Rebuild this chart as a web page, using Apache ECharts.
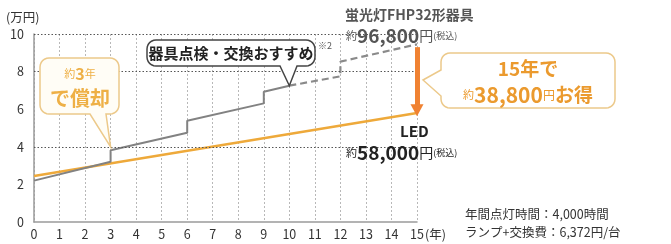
<!DOCTYPE html>
<html lang="ja">
<head>
<meta charset="utf-8">
<title>蛍光灯とLEDのコスト比較</title>
<script src="https://cdn.jsdelivr.net/npm/echarts@6/dist/echarts.min.js"></script>
<style>
  html, body { margin: 0; padding: 0; background: #fff; }
  #main { width: 671px; height: 244px; }
</style>
</head>
<body>
<div id="main"></div>
<script>
// 年
var years = [0, 1, 2, 3, 4, 5, 6, 7, 8, 9, 10, 11, 12, 13, 14, 15];
var yTicks = [0, 2, 4, 6, 8, 10];
// 蛍光灯 累計コスト（万円） 実線部分
var fluoSolid = [[0, 2.2], [3, 3.2], [3, 3.82], [6, 4.75], [6, 5.39], [9, 6.31], [9, 6.93], [10, 7.25]];
// 蛍光灯 破線部分（器具点検・交換後）
var fluoDashed = [[10, 7.25], [12, 7.75], [12, 8.53], [15, 9.45]];
// LED 累計コスト（万円）
var ledLine = [[0, 2.45], [15, 5.8]];
// 差額の矢印
var arrowFrom = [15, 9.3];
var arrowTo = [15, 5.95];
var hLines = [4, 8, 10];

var JP = '"Noto Sans CJK JP", "Noto Sans", sans-serif';
var chart = echarts.init(document.getElementById('main'), null, { renderer: 'canvas' });

var option = {
  animation: false,
  textStyle: { fontFamily: JP },
  grid: { left: 34, right: 254, top: 34, bottom: 22, containLabel: false },
  xAxis: {
    type: 'value', min: 0, max: 15, interval: 1,
    axisLine: { lineStyle: { color: '#9a9a9a', width: 1.5 } },
    axisTick: { show: false },
    axisLabel: { color: '#333', fontSize: 12.5, margin: 6, fontFamily: JP },
    splitLine: { show: true, lineStyle: { type: [2, 2], color: '#b8b8b8', width: 1 } }
  },
  yAxis: {
    type: 'value', min: 0, max: 10, interval: 2,
    axisLine: { show: true, lineStyle: { color: '#9a9a9a', width: 1.5 } },
    axisTick: { show: false },
    axisLabel: { color: '#333', fontSize: 12.5, margin: 10, fontFamily: JP },
    splitLine: { show: false }
  },
  series: [
    {
      type: 'line', data: ledLine, symbol: 'none', z: 3,
      lineStyle: { color: '#eea93a', width: 2.5 },
      markLine: {
        silent: true, symbol: 'none', label: { show: false },
        lineStyle: { type: [1.5, 2], color: '#555', width: 1 },
        data: hLines.map(function (v) { return { yAxis: v }; })
      }
    },
    {
      type: 'line', data: fluoSolid, symbol: 'none', z: 4,
      lineStyle: { color: '#828282', width: 2 }
    },
    {
      type: 'line', data: fluoDashed, symbol: 'none', z: 4,
      lineStyle: { color: '#8a8a8a', width: 2.2, type: [7, 4] },
      markLine: {
        silent: true, symbol: ['none', 'triangle'], symbolSize: [13, 12],
        label: { show: false },
        lineStyle: { type: 'solid', color: '#f08232', width: 5 },
        data: [[{ coord: arrowFrom }, { coord: arrowTo }]]
      }
    }
  ]
};
chart.setOption(option);

// 角丸の吹き出しを多角形の点列で作る
function arcPts(cx, cy, r, a0, a1) {
  var pts = [];
  for (var i = 0; i <= 6; i++) {
    var a = a0 + (a1 - a0) * i / 6;
    pts.push([cx + r * Math.cos(a), cy + r * Math.sin(a)]);
  }
  return pts;
}
function callout(x1, y1, x2, y2, r, tail) {
  var P = Math.PI, pts = [];
  pts = pts.concat(arcPts(x2 - r, y1 + r, r, -P / 2, 0));
  pts = pts.concat(arcPts(x2 - r, y2 - r, r, 0, P / 2));
  if (tail.side === 'bottom') {
    pts.push([tail.b, y2], [tail.tx, tail.ty], [tail.a, y2]);
  }
  pts = pts.concat(arcPts(x1 + r, y2 - r, r, P / 2, P));
  if (tail.side === 'left') {
    pts.push([x1, tail.b], [tail.tx, tail.ty], [x1, tail.a]);
  }
  pts = pts.concat(arcPts(x1 + r, y1 + r, r, P, P * 1.5));
  return pts;
}

var tip1 = chart.convertToPixel({ gridIndex: 0 }, [10, 7.25]);
var tip2 = chart.convertToPixel({ gridIndex: 0 }, [3, 4]);

// rich text style (graphic text uses fill)
function st(size, color, bold) {
  return { fontSize: size, fill: color, color: color, fontWeight: bold ? 'bold' : 'normal', fontFamily: JP };
}
var rich = {
  g: st(14, '#555', true),
  gs: st(11, '#555'),
  gb: st(19, '#555', true),
  gm: st(14, '#555'),
  gt: st(9, '#555'),
  d: st(15, '#222', true),
  ds: st(11, '#222'),
  db: st(19, '#222', true),
  dm: st(14, '#222'),
  dt: st(9, '#222'),
  o: st(19, '#eb9a2e', true),
  os: st(11, '#eb9a2e'),
  om: st(12, '#eb9a2e'),
  oo: st(19, '#eb9a2e', true),
  ob: st(21, '#eb9a2e', true),
  y3: st(16, '#eeb046', true),
  y3s: st(11, '#eeb046'),
  y3b: st(20, '#eeb046', true),
  n: st(12.5, '#333')
};

function rt(x, y, text, align) {
  return { type: 'text', x: x, y: y, z: 20,
    style: { text: text, rich: rich, fontFamily: JP, fill: '#333', align: align || 'left', verticalAlign: 'middle' } };
}

chart.setOption({
  graphic: [
    // 器具点検・交換おすすめ
    { type: 'polygon', z: 10, shape: { points: callout(147, 40, 315, 66, 9, { side: 'bottom', a: 280, b: 297, tx: tip1[0], ty: tip1[1] }) },
      style: { fill: '#fff', stroke: '#444', lineWidth: 1.5 } },
    rt(231, 53, '{d|器具点検・交換おすすめ}', 'center'),
    rt(318, 46, '{gt|※2}'),
    // 約3年で償却
    { type: 'polygon', z: 10, shape: { points: callout(40, 58, 119, 114, 9, { side: 'bottom', a: 90, b: 106, tx: tip2[0], ty: tip2[1] }) },
      style: { fill: '#fffdf6', stroke: '#ecc98a', lineWidth: 1.5 } },
    rt(80, 74, '{y3s|約}{y3|3}{y3s|年}', 'center'),
    rt(80, 98, '{y3b|で償却}', 'center'),
    // 15年で約38,800円お得
    { type: 'polygon', z: 10, shape: { points: callout(441, 53, 615, 108, 9, { side: 'left', a: 70, b: 96, tx: 423, ty: 80 }) },
      style: { fill: '#fff', stroke: '#ecc98a', lineWidth: 1.5 } },
    rt(528, 69, '{o|15年で}', 'center'),
    rt(528, 95, '{os|約}{ob|38,800}{om|円}{oo|お得}', 'center'),
    // 蛍光灯
    rt(345, 15, '{g|蛍光灯FHP32形器具}'),
    rt(346, 36, '{gs|約}{gb|96,800}{gm|円}{gt|(税込)}'),
    // LED
    rt(400, 131, '{d|LED}'),
    rt(346, 153, '{ds|約}{db|58,000}{dm|円}{dt|(税込)}'),
    // 注記
    rt(465, 214, '{n|年間点灯時間：4,000時間}'),
    rt(465, 232, '{n|ランプ+交換費：6,372円/台}'),
    // 単位
    rt(6, 17, '{n|(万円)}'),
    rt(425, 234, '{n|(年)}')
  ]
});
</script>
</body>
</html>
